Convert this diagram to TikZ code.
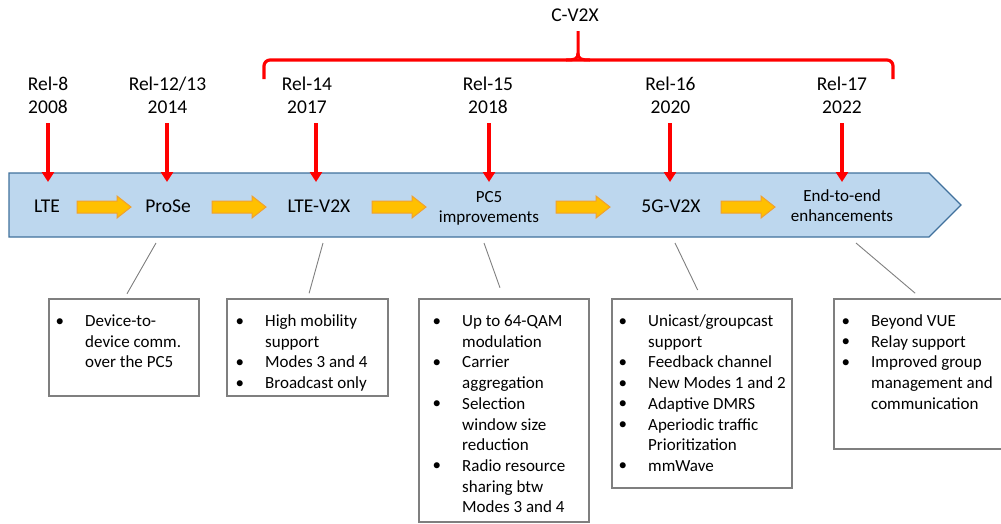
\documentclass[tikz,border=0pt]{standalone}
\usepackage{fontspec}
\setmainfont{Carlito}
\usetikzlibrary{arrows.meta}
\definecolor{bandfill}{HTML}{BDD7EE}
\definecolor{bandline}{HTML}{41719C}
\definecolor{orfill}{HTML}{FFC000}
\definecolor{orline}{HTML}{F0A030}
\definecolor{boxline}{HTML}{7F7F7F}
\definecolor{relred}{HTML}{FF0000}
\newcommand{\bigfnt}{\fontsize{19.5}{23}\selectfont}
\newcommand{\smfnt}{\fontsize{17}{20.7}\selectfont}
\newcommand{\blt}{\raisebox{0.5pt}{•}}
\begin{document}
\begin{tikzpicture}[x=1pt,y=-1pt,
  lbl/.style={inner sep=0pt, outer sep=0pt, anchor=base, font=\bigfnt},
  bandtxt/.style={inner sep=0pt, anchor=base, font=\bigfnt},
  bandtwo/.style={inner sep=0pt, anchor=base, font=\smfnt},
  redarr/.style={draw=relred, line width=3.5pt, -{Triangle[width=12pt,length=10pt]}, shorten <=2.6pt},
  brace/.style={draw=relred, line width=3.2pt, rounded corners=6pt},
  bandshape/.style={fill=bandfill, draw=bandline, line width=1.2pt},
  orstyle/.style={fill=orfill, draw=orline, line width=1pt},
  box/.style={draw=boxline, line width=1.2pt, inner sep=0pt, outer sep=0pt},
  gline/.style={draw=boxline, line width=0.9pt},
  btxt/.style={inner sep=0pt, anchor=base west, font=\smfnt},
  orarrow/.pic={\path[orstyle] (0,-6) -- (40,-6) -- (40,-11) -- (54,0) -- (40,11) -- (40,6) -- (0,6) -- cycle;}
]
\useasboundingbox (0,0) rectangle (1001,523);

% band
\path[bandshape] (9,173) -- (929,173) -- (961,205) -- (929,237) -- (9,237) -- cycle;

% band texts
\node[bandtxt] (lte) at (47,212) {LTE};
\node[bandtxt] (prose) at (168,212) {ProSe};
\node[bandtxt] (ltev) at (319,212) {LTE-V2X};
\node[bandtwo] (pc5) at (489,202) {\begin{tabular}[t]{@{}c@{}}PC5\\improvements\end{tabular}};
\node[bandtxt] (fiveg) at (671,212) {5G-V2X};
\node[bandtwo] (e2e) at (842,201) {\begin{tabular}[t]{@{}c@{}}End-to-end\\enhancements\end{tabular}};

% orange block arrows
\pic at (77,207) {orarrow};
\pic at (212,207) {orarrow};
\pic at (372,207) {orarrow};
\pic at (556,207) {orarrow};
\pic at (721,207) {orarrow};

% release labels
\node[lbl] (r8) at (48,113.5) {\begin{tabular}[b]{@{}c@{}}Rel-8\\2008\end{tabular}};
\node[lbl] (r12) at (167.5,113.5) {\begin{tabular}[b]{@{}c@{}}Rel-12/13\\2014\end{tabular}};
\node[lbl] (r14) at (307,113.5) {\begin{tabular}[b]{@{}c@{}}Rel-14\\2017\end{tabular}};
\node[lbl] (r15) at (488,113.5) {\begin{tabular}[b]{@{}c@{}}Rel-15\\2018\end{tabular}};
\node[lbl] (r16) at (670.5,113.5) {\begin{tabular}[b]{@{}c@{}}Rel-16\\2020\end{tabular}};
\node[lbl] (r17) at (842,113.5) {\begin{tabular}[b]{@{}c@{}}Rel-17\\2022\end{tabular}};

\coordinate (t8) at (48,182);
\coordinate (t12) at (167,182);
\coordinate (t14) at (316,182);
\coordinate (t15) at (489,182);
\coordinate (t16) at (670,182);
\coordinate (t17) at (842,182);

\draw[redarr] (r8.south -| t8) -- (t8);
\draw[redarr] (r12.south -| t12) -- (t12);
\draw[redarr] (r14.south -| t14) -- (t14);
\draw[redarr] (r15.south -| t15) -- (t15);
\draw[redarr] (r16.south -| t16) -- (t16);
\draw[redarr] (r17.south -| t17) -- (t17);

% C-V2X brace
\node[lbl] (cv2x) at (575,21) {C-V2X};
\draw[brace] (264,79) -- (264,60) -- (893,60) -- (893,79);
\draw[draw=relred, line width=3pt] (566,60) .. controls (575,60) and (578,59) .. (578,53) -- (578,31);
\draw[draw=relred, line width=3pt] (590,60) .. controls (581,60) and (578,59) .. (578,53);

% boxes
\node[box, minimum width=150pt, minimum height=97pt] (b1) at (124,347.5) {};
\node[box, minimum width=161pt, minimum height=97pt] (b2) at (307.5,347.5) {};
\node[box, minimum width=170pt, minimum height=223pt] (b3) at (504,410.5) {};
\node[box, minimum width=180pt, minimum height=189pt] (b4) at (702,393.5) {};
\node[box, minimum width=176pt, minimum height=150pt] (b5) at (922,374) {};

% connectors band -> boxes
\coordinate (s1) at (156,243);
\coordinate (s2) at (323,243);
\coordinate (s3) at (484,243);
\coordinate (s4) at (675,243);
\coordinate (s5) at (856,243);
\draw[gline, shorten >=6pt] (s1) -- (b1.north);
\draw[gline, shorten >=6pt] (s2) -- (b2.north);
\draw[gline, shorten >=12pt] (s3) -- (b3.north);
\draw[gline, shorten >=10pt] (s4) -- (b4.north);
\draw[gline, shorten >=9pt] (s5) -- (b5.north);

% box texts
\node[btxt] (x1) at (55.5,326.5) {\begin{tabular}[t]{@{}p{29.5pt}@{}l@{}}
\blt & Device-to-\\ & device comm.\\ & over the PC5\end{tabular}};
\node[btxt] (x2) at (235.5,326.5) {\begin{tabular}[t]{@{}p{29.5pt}@{}l@{}}
\blt & High mobility\\ & support\\ \blt & Modes 3 and 4\\ \blt & Broadcast only\end{tabular}};
\node[btxt] (x3) at (432.5,326.5) {\begin{tabular}[t]{@{}p{29.5pt}@{}l@{}}
\blt & Up to 64-QAM\\ & modulation\\ \blt & Carrier\\ & aggregation\\ \blt & Selection\\ & window size\\ & reduction\\ \blt & Radio resource\\ & sharing btw\\ & Modes 3 and 4\end{tabular}};
\node[btxt] (x4) at (618.5,326.5) {\begin{tabular}[t]{@{}p{29.5pt}@{}l@{}}
\blt & Unicast/groupcast\\ & support\\ \blt & Feedback channel\\ \blt & New Modes 1 and 2\\ \blt & Adaptive DMRS\\ \blt & Aperiodic traffic\\ & Prioritization\\ \blt & mmWave\end{tabular}};
\node[btxt] (x5) at (841.5,326.5) {\begin{tabular}[t]{@{}p{29.5pt}@{}l@{}}
\blt & Beyond VUE\\ \blt & Relay support\\ \blt & Improved group\\ & management and\\ & communication\end{tabular}};
\end{tikzpicture}
\end{document}
